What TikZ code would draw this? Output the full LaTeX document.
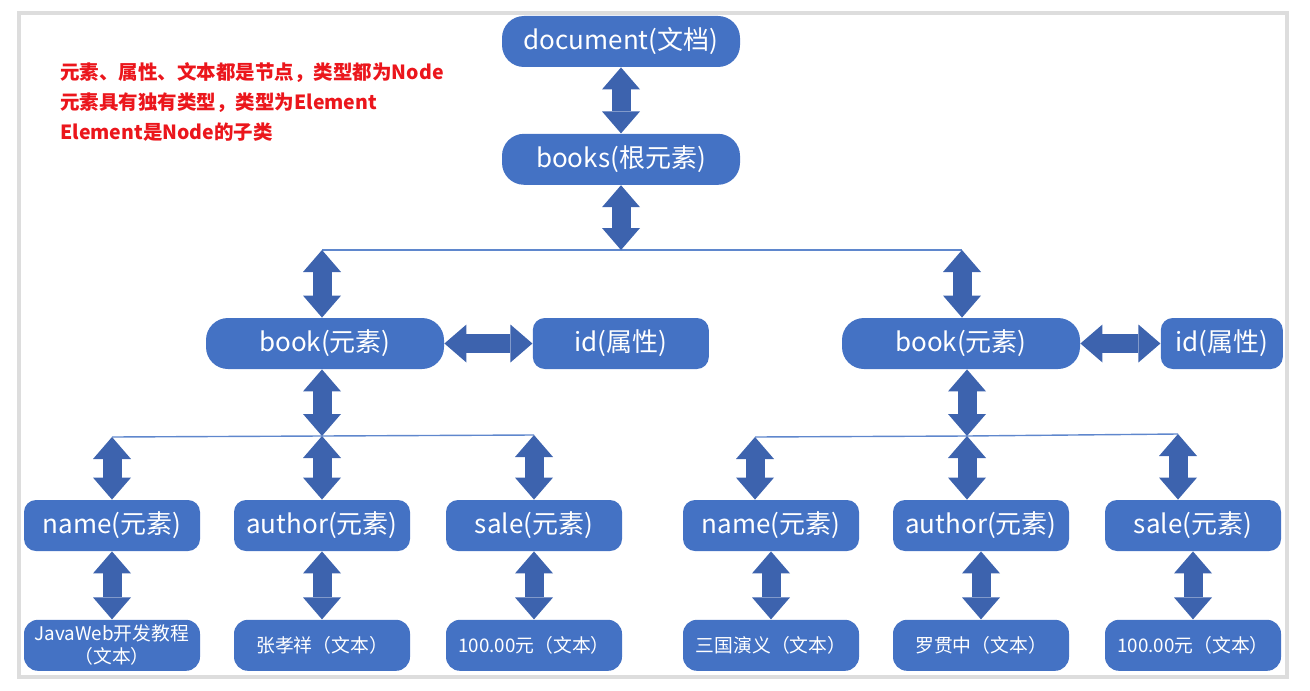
\documentclass[tikz,border=0pt]{standalone}
\usepackage{fontspec}
\newfontfamily\cjk{Noto Sans CJK SC}
\definecolor{boxblue}{RGB}{68,114,196}
\definecolor{arrowblue}{RGB}{61,99,174}
\definecolor{linkblue}{RGB}{95,135,205}
\definecolor{notered}{RGB}{235,22,28}
\definecolor{framegray}{RGB}{221,221,221}
\usetikzlibrary{arrows.meta, positioning}

\begin{document}
\begin{tikzpicture}[x=0.5pt, y=-0.5pt, node distance=34pt,
    every node/.style={font=\cjk},
    elem/.style={fill=boxblue, text=white, rounded corners=11pt, minimum width=119pt, minimum height=25.5pt, inner sep=0pt, font=\cjk\fontsize{13}{15}\selectfont},
    small/.style={elem, rounded corners=6pt, minimum width=88pt},
    leaf/.style={elem, rounded corners=7pt, minimum width=88pt, align=center, font=\cjk\fontsize{9.4}{11.5}\selectfont},
    biarrow/.style={draw=arrowblue, line width=9.5pt, {Triangle[width=19pt,length=11pt,line width=0pt]}-{Triangle[width=19pt,length=11pt,line width=0pt]}},
    link/.style={draw=linkblue, line width=0.7pt}]
    \useasboundingbox (0,0) rectangle (1310,690);
    \draw[framegray, line width=1.75pt] (19,13) rectangle (1287,677);

    \node[anchor=north west, align=left, inner sep=0pt, text=notered, font=\cjk\bfseries\fontsize{9.75}{15}\selectfont] (note) at (60,62) {元素、属性、文本都是节点，类型都为Node\\元素具有独有类型，类型为Element\\Element是Node的子类};

    \node[elem] (doc) at (621,41.5) {document(文档)};
    \node[elem, below=33pt of doc] (books) {books(根元素)};
    \node[elem] (bookA) at (325,343.5) {book(元素)};
    \node[small, right=44pt of bookA] (idA) {id(属性)};
    \node[elem] (bookB) at (961,343.5) {book(元素)};
    \node[small, right=40pt of bookB, minimum width=61pt] (idB) {id(属性)};

    \node[small] (nameA) at (112,525.5) {name(元素)};
    \node[small] (authorA) at (322,525.5) {author(元素)};
    \node[small] (saleA) at (534,525.5) {sale(元素)};
    \node[small] (nameB) at (771,525.5) {name(元素)};
    \node[small] (authorB) at (981,525.5) {author(元素)};
    \node[small] (saleB) at (1193,525.5) {sale(元素)};

    \node[leaf, below=of nameA] (txtA) {JavaWeb开发教程\\（文本）};
    \node[leaf, below=of authorA] (txtB) {张孝祥（文本）};
    \node[leaf, below=of saleA] (txtC) {100.00元（文本）};
    \node[leaf, below=of nameB] (txtD) {三国演义（文本）};
    \node[leaf, below=of authorB] (txtE) {罗贯中（文本）};
    \node[leaf, below=of saleB] (txtF) {100.00元（文本）};

    % root part
    \coordinate (hub) at (621,250);
    \coordinate (hubL) at (322,250);
    \coordinate (hubR) at (962,250);
    \draw[link] (hubL) -- (hubR);
    \draw[biarrow] (doc) -- (books);
    \draw[biarrow] (books) -- (hub);
    \draw[biarrow] (hubL) -- (hubL |- bookA.north);
    \draw[biarrow] (hubR) -- (hubR |- bookB.north);
    \draw[biarrow] (bookA) -- (idA);
    \draw[biarrow] (bookB) -- (idB);

    % first book
    \coordinate (forkA) at (322,436);
    \coordinate (forkA1) at (112,437);
    \coordinate (forkA3) at (534,435);
    \draw[link] (forkA1) -- (forkA) -- (forkA3);
    \draw[biarrow] (bookA.south -| forkA) -- (forkA);
    \draw[biarrow] (forkA1) -- (nameA);
    \draw[biarrow] (forkA) -- (authorA);
    \draw[biarrow] (forkA3) -- (saleA);

    % second book
    \coordinate (forkB) at (967,436);
    \coordinate (forkB1) at (755,437);
    \coordinate (forkB3) at (1178,434);
    \draw[link] (forkB1) -- (forkB) -- (forkB3);
    \draw[biarrow] (bookB.south -| forkB) -- (forkB);
    \draw[biarrow] (forkB1) -- (forkB1 |- nameB.north);
    \draw[biarrow] (forkB) -- (forkB |- authorB.north);
    \draw[biarrow] (forkB3) -- (forkB3 |- saleB.north);

    % texts
    \draw[biarrow] (nameA) -- (txtA);
    \draw[biarrow] (authorA) -- (txtB);
    \draw[biarrow] (saleA) -- (txtC);
    \draw[biarrow] (nameB) -- (txtD);
    \draw[biarrow] (authorB) -- (txtE);
    \draw[biarrow] (saleB) -- (txtF);
\end{tikzpicture}
\end{document}
